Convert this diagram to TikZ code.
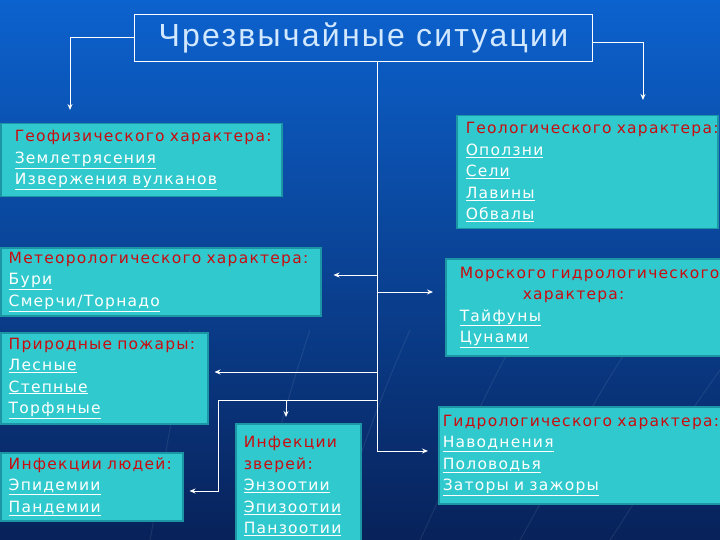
\documentclass[tikz,border=0pt]{standalone}
\usepackage{fontspec}
\setmainfont[LetterSpace=8]{DejaVu Sans}
\newfontfamily\titlefont[LetterSpace=7]{Liberation Sans}
\usetikzlibrary{arrows.meta}
\definecolor{bgtop}{RGB}{12,98,206}
\definecolor{bgmid}{RGB}{10,66,158}
\definecolor{bgbot}{RGB}{8,34,90}
\definecolor{boxfill}{RGB}{48,202,206}
\definecolor{boxline}{RGB}{28,150,165}
\definecolor{hdred}{RGB}{200,12,16}
\definecolor{titletext}{RGB}{210,232,255}
\newcommand\hd[1]{\textcolor{hdred}{#1}}
\newcommand\lnk[1]{\textcolor{white}{\underline{#1}}}
\begin{document}
\begin{tikzpicture}[x=1pt,y=-1pt]
\tikzset{box/.style={draw=boxline,line width=1.5pt,fill=boxfill,anchor=north west,
  inner ysep=0pt,align=left,font=\fontsize{15.5}{21.5}\selectfont},
  conn/.style={draw=white,line width=1pt,-{Stealth[length=6pt,width=5pt]}},
  trunk/.style={draw=white,line width=1pt}}
\useasboundingbox (0,0) rectangle (720,540);
\clip (0,0) rectangle (720,540);
% The background
\shade[top color=bgtop,middle color=bgmid,bottom color=bgbot] (0,0) rectangle (720,540);
\foreach \x/\b in {150/40,250/60,330/80,420/100,520/120,610/140}
  \draw[white,opacity=.08,line width=1pt] (\x,540) .. controls (\x+\b/3,470) and (\x+\b/2,420) .. (\x+\b,330);
%%%
\node[draw=white,line width=.8pt,anchor=north west,minimum width=458pt,minimum height=47pt,
  inner sep=0pt,text=titletext,font=\titlefont\fontsize{32}{36}\selectfont]
  (title) at (134,14) {Чрезвычайные ситуации};
%%%
\node[box,minimum width=281pt,minimum height=73pt,inner xsep=14pt,text width=253pt]
  (geo) at (0,123) {\mbox{\hd{Геофизического характера:}}\\ \lnk{Землетрясения}\\ \lnk{Извержения вулканов}};
\node[box,minimum width=320pt,minimum height=68pt,inner xsep=8pt,text width=304pt]
  (meteo) at (0,247) {\mbox{\hd{Метеорологического характера:}}\\ \lnk{Бури}\\ \lnk{Смерчи/Торнадо}};
\node[box,minimum width=207pt,minimum height=91pt,inner xsep=8pt,text width=191pt]
  (fire) at (0,332) {\mbox{\hd{Природные пожары:}}\\ \lnk{Лесные}\\ \lnk{Степные}\\ \lnk{Торфяные}};
\node[box,minimum width=182pt,minimum height=68pt,inner xsep=8pt,text width=166pt]
  (people) at (0,452) {\mbox{\hd{Инфекции людей:}}\\ \lnk{Эпидемии}\\ \lnk{Пандемии}};
\node[box,minimum width=125pt,minimum height=125pt,inner xsep=8pt,text width=109pt]
  (animals) at (235,423) {\hd{Инфекции}\\ \hd{зверей:}\\ \lnk{Энзоотии}\\ \lnk{Эпизоотии}\\ \lnk{Панзоотии}};
\node[box,minimum width=261pt,minimum height=113pt,inner xsep=9pt,text width=243pt]
  (geol) at (456,115) {\mbox{\hd{Геологического характера:}}\\ \lnk{Оползни}\\ \lnk{Сели}\\ \lnk{Лавины}\\ \lnk{Обвалы}};
\node[box,minimum width=290pt,minimum height=97pt,inner xsep=14pt,text width=262pt]
  (sea) at (445,258) {\mbox{\hd{Морского гидрологического}}\\ \hspace*{63pt}\hd{характера:}\\ \lnk{Тайфуны}\\ \lnk{Цунами}};
\node[box,minimum width=290pt,minimum height=97pt,inner xsep=4pt,text width=282pt]
  (hydro) at (438,406) {\mbox{\hd{Гидрологического характера:}}\\ \lnk{Наводнения}\\ \lnk{Половодья}\\ \lnk{Заторы и зажоры}};
%%%
% Connectors
\coordinate (bottom) at (377,451);
\draw[conn,shorten >=13pt] (title.west) -| (70,0 |- geo.north);
\draw[conn,shorten >=15pt] ([yshift=-5pt]title.east) -| (643,0 |- geol.north);
\draw[trunk] (title.south -| bottom) -- (bottom);
\draw[conn,shorten >=12pt] (bottom |- 0,275) -- (meteo.east |- 0,275);
\draw[conn,shorten >=12pt] (bottom |- 0,292) -- (sea.west |- 0,292);
\draw[conn,shorten >=6pt] (bottom |- 0,372) -- (fire.east |- 0,372);
\draw[conn,shorten >=6pt] (bottom |- 0,400) -- (218,400) |- (people.east |- 0,491);
\draw[conn,shorten >=6pt] (286,400) -- (animals.north -| 286,0);
\draw[conn,shorten >=10pt] (bottom) -- (hydro.west |- bottom);
\end{tikzpicture}
\end{document}
